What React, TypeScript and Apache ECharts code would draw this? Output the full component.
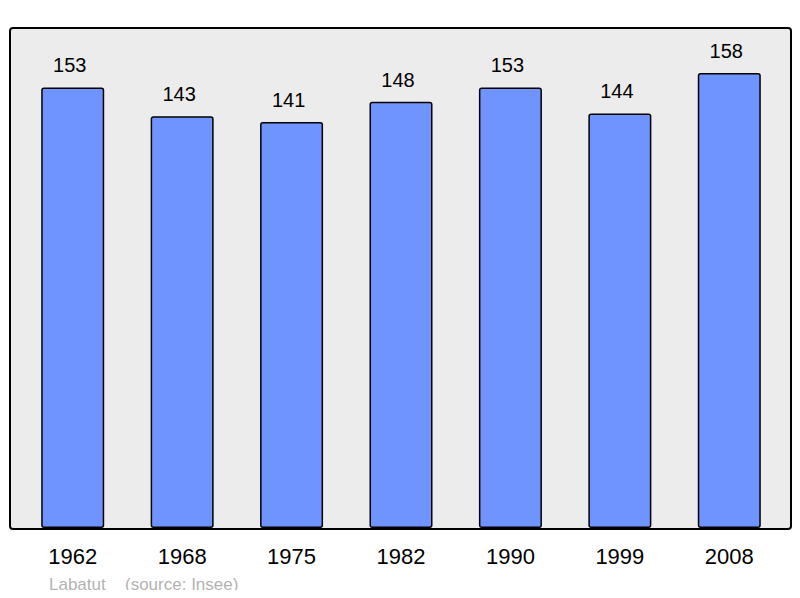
import React, { useEffect, useRef } from 'react'
import * as echarts from 'echarts'

const years = ['1962', '1968', '1975', '1982', '1990', '1999', '2008']
const population = [153, 143, 141, 148, 153, 144, 158]
const footerName = 'Labatut'
const footerSource = '(source: Insee)'

const App: React.FC = () => {
  const chartRef = useRef<HTMLDivElement>(null)

  useEffect(() => {
    if (!chartRef.current) return
    const chart = echarts.init(chartRef.current, null, { renderer: 'svg' })

    const option: echarts.EChartsOption = {
      animation: false,
      textStyle: { fontFamily: 'Liberation Sans, Arial, sans-serif' },
      graphic: [
        {
          type: 'rect',
          left: 9,
          top: 27,
          shape: { width: 781, height: 501, r: 3 },
          style: { fill: '#ececec', stroke: '#000', lineWidth: 2 },
          z: -10
        },
        {
          type: 'text',
          left: 49,
          top: 576,
          style: { text: footerName, fill: '#b3b3b3', font: '17px Liberation Sans, Arial, sans-serif' }
        },
        {
          type: 'text',
          left: 125,
          top: 576,
          style: { text: footerSource, fill: '#b3b3b3', font: '17px Liberation Sans, Arial, sans-serif' }
        }
      ],
      grid: { left: 18, right: 16, top: 27, bottom: 70 },
      xAxis: {
        type: 'category',
        data: years,
        axisLine: { show: false },
        axisTick: { show: false },
        axisLabel: { color: '#000', fontSize: 22, margin: 17 }
      },
      yAxis: {
        type: 'value',
        min: 0,
        max: 174,
        show: false
      },
      series: [
        {
          type: 'bar',
          data: population,
          barWidth: 63,
          itemStyle: {
            color: '#7094ff',
            borderColor: '#000',
            borderWidth: 1.5,
            borderRadius: 2
          },
          label: {
            show: true,
            position: 'top',
            distance: 12,
            offset: [-3, 0],
            color: '#000',
            fontSize: 20
          }
        }
      ]
    }

    chart.setOption(option)
    return () => chart.dispose()
  }, [])

  return <div ref={chartRef} style={{ width: 800, height: 598, margin: -8 }} />
}

export default App
